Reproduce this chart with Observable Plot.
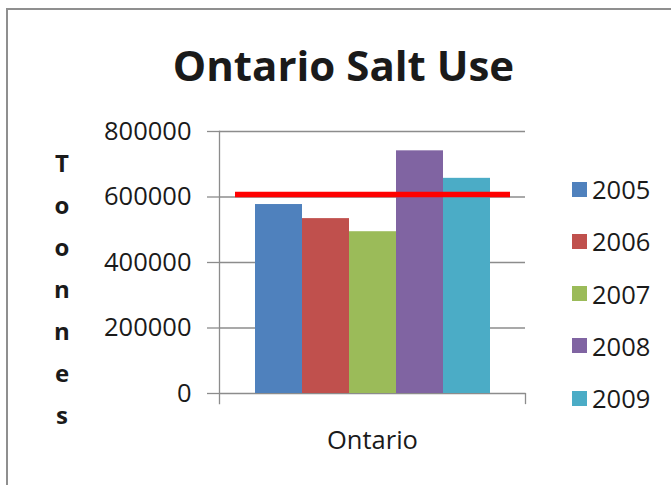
<!DOCTYPE html>
<html>
<head>
<meta charset="utf-8">
<script src="https://cdn.jsdelivr.net/npm/d3@7"></script>
<script src="https://cdn.jsdelivr.net/npm/@observablehq/plot@0.6"></script>
<style>
  html, body { margin: 0; padding: 0; background: #fff; }
  #chart { position: relative; width: 671px; height: 485px; overflow: hidden;
           font-family: "Open Sans", sans-serif; color: #1a1a1a; }
  #chart .border { position: absolute; left: 6px; top: 8px; right: -10px; bottom: -10px;
                   border-left: 2px solid #8f8f8f; border-top: 2px solid #8f8f8f; }
  #chart svg { position: absolute; left: 0; top: 0; }
  #chart .title { position: absolute; left: 0; width: 687px; top: 44px; text-align: center;
                  font-weight: 700; font-size: 42px; line-height: 42px; white-space: nowrap; }
  #chart .ylabel { position: absolute; left: 42px; width: 40px; top: 142px; text-align: center;
                   font-weight: 700; font-size: 24px; line-height: 42px; }
  #chart .legend { position: absolute; left: 572px; top: 163px; }
  #chart .legend .item { display: flex; align-items: center; height: 52.25px; font-size: 25.5px; }
  #chart .legend .sw { width: 15px; height: 15px; margin-right: 5px; }
</style>
</head>
<body>
<div id="chart">
  <div class="border"></div>
</div>
<script>
// Ontario road salt use by year, in tonnes
const region = "Ontario";
const years = ["2005", "2006", "2007", "2008", "2009"];
const tonnes = [577000, 534000, 494000, 741000, 657000];
const colors = ["#4F81BD", "#C0504D", "#9BBB59", "#8064A2", "#4BACC6"];
const yTicks = [0, 200000, 400000, 600000, 800000];
const referenceLevel = 608000;
const titleText = "Ontario Salt Use";
const yLabel = "Toonnes";

const rows = years.map((year, i) => ({region, year, tonnes: tonnes[i]}));

const gridColor = "#8c8c8c";

const plot = Plot.plot({
  width: 671,
  height: 485,
  marginTop: 131,
  marginBottom: 92,
  marginLeft: 219,
  marginRight: 146,
  style: {fontFamily: '"Open Sans", sans-serif', background: "transparent", color: "#1a1a1a"},
  fx: {domain: [region], padding: 0, label: null},
  x: {domain: years, paddingInner: 0, paddingOuter: 0.755, axis: null},
  y: {domain: [0, 800000]},
  color: {domain: years, range: colors},
  marks: [
    Plot.gridY(yTicks, {stroke: gridColor, strokeOpacity: 1, strokeWidth: 1.3}),
    Plot.barY(rows, {fx: "region", x: "year", y: "tonnes", fill: "year"}),
    Plot.ruleY([referenceLevel], {stroke: "#ff0000", strokeWidth: 5.5, insetLeft: 16, insetRight: 15}),
    Plot.frame({anchor: "left", stroke: gridColor, strokeWidth: 1.3, insetBottom: -10}),
    Plot.frame({anchor: "right", stroke: gridColor, strokeWidth: 1.3, insetTop: 262, insetBottom: -10}),
    Plot.axisY(yTicks, {
      tickSize: 12, tickPadding: 16, fontSize: 25.5,
      stroke: gridColor, strokeWidth: 1.3, fill: "#1a1a1a",
      tickFormat: d => String(d), label: null
    }),
    Plot.axisFx({anchor: "bottom", tickSize: 0, tickPadding: 37, fontSize: 25.5, label: null})
  ]
});

const chart = document.getElementById("chart");
chart.appendChild(plot);

const title = document.createElement("div");
title.className = "title";
title.textContent = titleText;
chart.appendChild(title);

const ylab = document.createElement("div");
ylab.className = "ylabel";
ylab.innerHTML = Array.from(yLabel).map(c => `<div>${c}</div>`).join("");
chart.appendChild(ylab);

const legend = document.createElement("div");
legend.className = "legend";
years.forEach((y, i) => {
  const item = document.createElement("div");
  item.className = "item";
  const sw = document.createElement("span");
  sw.className = "sw";
  sw.style.background = colors[i];
  const label = document.createElement("span");
  label.textContent = y;
  item.appendChild(sw);
  item.appendChild(label);
  legend.appendChild(item);
});
chart.appendChild(legend);
</script>
</body>
</html>
